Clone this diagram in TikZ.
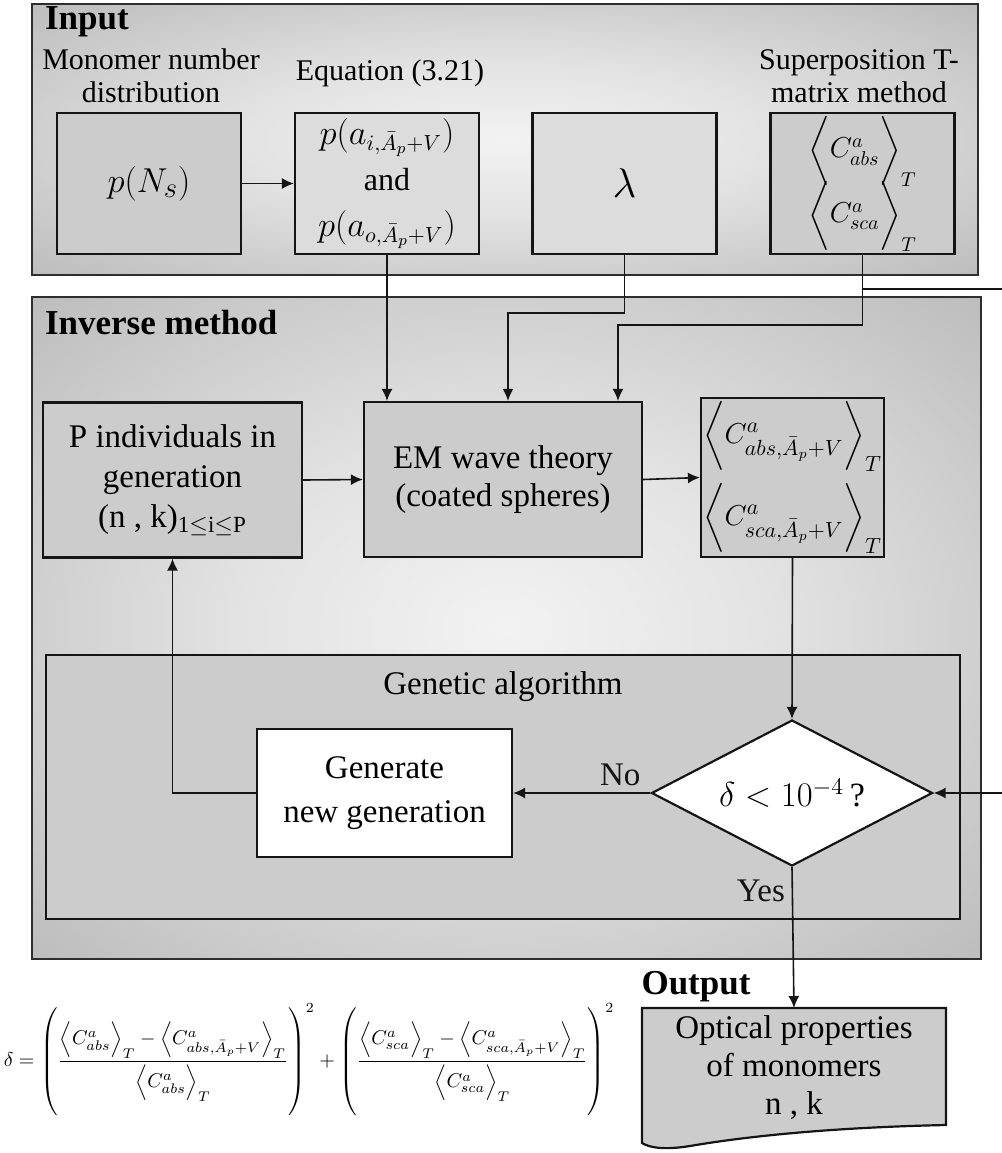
\documentclass[tikz,border=0pt]{standalone}
\usepackage{amsmath}
\usepackage{fontspec}
\setmainfont{Liberation Serif}
\usetikzlibrary{positioning, calc, arrows.meta, shapes.geometric}
\definecolor{Ink}{HTML}{151515}
\definecolor{BoxGray}{HTML}{CCCCCC}
\definecolor{BoxLight}{HTML}{DCDCDC}
\definecolor{PanelLine}{HTML}{2E2E2E}
\pgfdeclareradialshading{panelglow}{\pgfpoint{0bp}{0bp}}{color(0bp)=(white!95!black); color(14bp)=(white!89!black); color(34bp)=(white!75!black); color(50bp)=(white!65!black)}
\newcommand{\boxfont}{\fontsize{16.5}{20}\selectfont}
\newcommand{\tallstrut}{\rule[-25pt]{0pt}{52pt}}
\tikzset{
    panel/.style={draw=PanelLine, line width=1pt, shading=panelglow},
    greybox/.style={rectangle, draw=Ink, line width=1.1pt, fill=BoxGray, align=center, inner sep=0pt, font=\boxfont},
    lightbox/.style={greybox, fill=BoxLight},
    whitebox/.style={greybox, fill=white},
    caption/.style={align=center, font=\fontsize{15}{16.5}\selectfont},
    heading/.style={anchor=west, font=\fontsize{17.5}{20}\selectfont\bfseries},
    link/.style={-{Latex[length=6pt,width=5.5pt]}, line width=0.8pt, color=Ink},
    wire/.style={line width=0.8pt, color=Ink},
}

\begin{document}
\begin{tikzpicture}[x=0.5pt, y=-0.5pt]
    \useasboundingbox (0,0) rectangle (1002,1153);

    % panels
    \path[panel] (32,4) rectangle (978,275);
    \path[panel] (32,297) rectangle (981,959);
    \draw[wire, line width=1.1pt, fill=BoxGray] (46,655) rectangle (960,919);

    % Input
    \node[heading] (inputlbl) at (38,22) {Input};
    \node[caption] (pnslbl) at (151,76) {Monomer number\\distribution};
    \node[caption] (eqlbl) at (390,73) {Equation (3.21)};
    \node[caption] (tmatlbl) at (859,76) {Superposition T-\\matrix method};

    \node[greybox, minimum width=92pt, minimum height=70.5pt, font=\fontsize{19}{22}\selectfont] (pns) at (149,183.5) {$p(N_{s})$};
    \node[lightbox, minimum width=92pt, minimum height=70.5pt, font=\fontsize{16}{23}\selectfont] (eq) at (387,183.5)
        {$p(a_{i,\bar{A}_p+V})$\\and\\$p(a_{o,\bar{A}_p+V})$};
    \node[lightbox, minimum width=92pt, minimum height=70.5pt, font=\fontsize{21}{24}\selectfont] (lam) at (624.5,183.5) {$\lambda$};
    \node[greybox, minimum width=92pt, minimum height=70.5pt, font=\fontsize{14}{17}\selectfont] (tmat) at (862.5,183.5)
        {$\bigg\langle C^{a}_{abs}\bigg\rangle_{T}$\\[-3.5pt]$\bigg\langle C^{a}_{sca}\bigg\rangle_{T}$};

    % Inverse method
    \node[heading] (invlbl) at (38,323) {Inverse method};
    \node[greybox, minimum width=129.5pt, minimum height=77.5pt] (pind) at (172.5,480)
        {P individuals in\\generation\\(n , k)$_{\mathrm{1\leq i\leq P}}$};
    \node[greybox, minimum width=139pt, minimum height=77.5pt, font=\fontsize{16.5}{19}\selectfont] (em) at (503,479.5)
        {EM wave theory\\(coated spheres)};
    \node[greybox, minimum width=91.5pt, minimum height=79.5pt, font=\fontsize{15}{18}\selectfont] (cint) at (792.5,477.5)
        {$\bigg\langle C^{a}_{abs,\bar{A}_p+V}\bigg\rangle_{T}$\\[5pt]$\bigg\langle C^{a}_{sca,\bar{A}_p+V}\bigg\rangle_{T}$};

    % Genetic algorithm
    \node[caption, font=\boxfont] (galbl) at (503,687) {Genetic algorithm};
    \node[whitebox, minimum width=127.5pt, minimum height=64pt, font=\fontsize{16.5}{22}\selectfont] (newgen) at (384.5,793)
        {Generate\\new generation};
    \node[diamond, aspect=1.9, draw=Ink, line width=1.1pt, fill=white, inner sep=0pt, minimum width=140.5pt, minimum height=73pt,
        font=\fontsize{17}{20}\selectfont] (check) at (792,793) {$\delta < 10^{-4}\,$?};

    % Output
    \node[heading, anchor=center] (outlbl) at (696,987) {Output};
    \draw[wire, line width=1.1pt, fill=BoxGray] (642,1008) -- (946,1008) -- (946,1125)
        .. controls (850,1127) and (760,1134) .. (690,1146)
        .. controls (665,1150) and (650,1148) .. (642,1143) -- cycle;
    \coordinate (outtop) at (794,1008);
    \node[align=center, font=\fontsize{16.5}{19}\selectfont] (out) at (794,1068) {Optical properties\\of monomers\\n , k};

    % formula
    \node[font=\fontsize{10}{12}\selectfont] (delta) at (309,1060)
        {$\delta=\left(\dfrac{\Big\langle C^{a}_{abs}\Big\rangle_{T}-\Big\langle C^{a}_{abs,\bar{A}_p+V}\Big\rangle_{T}}{\Big\langle C^{a}_{abs}\Big\rangle_{T}}\tallstrut\right)^{2}
        +\left(\dfrac{\Big\langle C^{a}_{sca}\Big\rangle_{T}-\Big\langle C^{a}_{sca,\bar{A}_p+V}\Big\rangle_{T}}{\Big\langle C^{a}_{sca}\Big\rangle_{T}}\tallstrut\right)^{2}$};

    % loose ends at the right edge
    \coordinate (rtop) at (1002,289);
    \coordinate (rdia) at (1002,793);
    \coordinate (lamturn) at (624.5,313);
    \coordinate (tmatturn) at (862.5,325);

    % connectors
    \draw[link] (pns) -- (eq);
    \draw[link] (eq.south) -- ([xshift=-58pt]em.north);
    \draw[link] (lam.south) -- (lamturn) -| ([xshift=2.5pt]em.north);
    \draw[link] (tmat.south) -- (tmatturn) -| ([xshift=57.5pt]em.north);
    \draw[wire] (tmat.south |- rtop) -- (rtop);
    \draw[link] (pind.east) -- (em.west);
    \draw[link] (em.east) -- (cint.west);
    \draw[link] (cint.south) -- (check.north);
    \draw[link] (check.west) -- node[pos=0.22, above, font=\boxfont] {No} (newgen.east);
    \draw[link] (newgen.west) -| (pind.south);
    \draw[link] (rdia) -- (check.east);
    \draw[link] (check.south) -- node[pos=0.17, left, font=\boxfont] {Yes} (outtop);
\end{tikzpicture}
\end{document}
